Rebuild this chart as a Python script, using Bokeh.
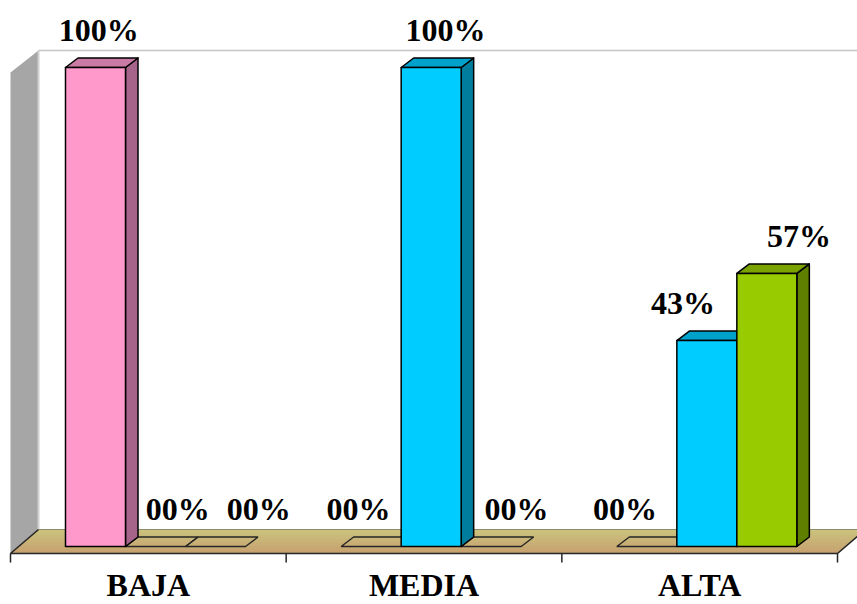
from bokeh.plotting import figure
from bokeh.models import Range1d, ColumnDataSource
from bokeh.core.properties import value
from bokeh.embed import file_html
from bokeh.resources import INLINE

# ---- data -------------------------------------------------------------
categories = ["BAJA", "MEDIA", "ALTA"]
serie_rosa = [100, 0, 0]
serie_celeste = [0, 100, 43]
serie_verde = [0, 0, 57]
series = [serie_rosa, serie_celeste, serie_verde]

# face colours per series: front, top, side
front_colors = ["#ff99cc", "#00ccff", "#99cc00"]
top_colors = ["#c97ba6", "#00a2cc", "#7aa300"]
side_colors = ["#a6648a", "#007c9c", "#5f7f00"]

# hand placed value labels (pixel nudges from the bar centre)
label_dx = [[-3, 16, 37], [-19, 8, 19], [-28, -30, 26]]

# ---- layout constants (screen pixels) ---------------------------------
W, H = 857, 604
X_PX = 275.67        # pixels per category
Y_PX = 4.79          # pixels per percentage point
X0_PX = 10           # left edge of the first category
BASE_PX = 546        # screen row of 0 % on the bars' front plane
TEXT_LIFT = 12       # svg text sits a little low; lift baselines by this

def dx(px):
    return px / X_PX

def dy(px):
    return px / Y_PX

def vy(screen_row):
    return (BASE_PX - screen_row) / Y_PX

p = figure(width=W, height=H, output_backend="svg", toolbar_location=None,
           x_range=Range1d(-X0_PX / X_PX, (W - X0_PX) / X_PX),
           y_range=Range1d(vy(H), vy(0)),
           x_axis_type=None, y_axis_type=None,
           min_border=0, outline_line_color=None)
p.grid.visible = False
p.background_fill_color = "white"
p.border_fill_color = "white"

# ---- walls and floor --------------------------------------------------
DEPTH_X, FLOOR_FRONT, FLOOR_BACK = 28, 553, 529
n_cat = len(categories)

# left side wall
p.patch([0, 0, dx(DEPTH_X), dx(DEPTH_X)],
        [vy(FLOOR_FRONT), vy(72), vy(50), vy(FLOOR_BACK)],
        fill_color="#a6a6a6", line_color=None)
# back wall edges
p.line([dx(DEPTH_X), dx(DEPTH_X)], [vy(FLOOR_BACK), vy(50)],
       line_color="#cfcfcf", line_width=2)
p.line([dx(DEPTH_X), dx(W)], [vy(50), vy(50)], line_color="#c4c4c4", line_width=1.5)

# floor drawn as thin strips shading from tan (front) to khaki (back)
c_front = (0xc6, 0x9f, 0x6e)
c_back = (0xcb, 0xc4, 0x7f)
n_strips = 12
fxs, fys, fcs = [], [], []
for k in range(n_strips):
    t0, t1 = k / n_strips, (k + 1) / n_strips
    r0 = FLOOR_FRONT - t0 * (FLOOR_FRONT - FLOOR_BACK)
    r1 = FLOOR_FRONT - t1 * (FLOOR_FRONT - FLOOR_BACK) - 0.4
    fxs.append([dx(t0 * DEPTH_X), n_cat + dx(t0 * DEPTH_X),
                n_cat + dx(t1 * DEPTH_X), dx(t1 * DEPTH_X)])
    fys.append([vy(r0), vy(r0), vy(r1), vy(r1)])
    t = (k + 0.5) / n_strips
    rgb = tuple(int(round(a + (b - a) * t)) for a, b in zip(c_front, c_back))
    fcs.append("#%02x%02x%02x" % rgb)
p.patches(fxs, fys, fill_color=fcs, line_color=None)
p.line([dx(DEPTH_X), n_cat + dx(DEPTH_X)], [vy(FLOOR_BACK), vy(FLOOR_BACK)],
       line_color="#8c8c6a", line_width=1)
p.line([dx(DEPTH_X), 0, n_cat, n_cat + dx(DEPTH_X)],
       [vy(FLOOR_BACK), vy(FLOOR_FRONT), vy(FLOOR_FRONT), vy(FLOOR_BACK)],
       line_color="#262626", line_width=1.6)

# category axis ticks at the category boundaries
p.segment(x0=list(range(n_cat + 1)), y0=[vy(FLOOR_FRONT)] * (n_cat + 1),
          x1=list(range(n_cat + 1)), y1=[vy(FLOOR_FRONT + 9)] * (n_cat + 1),
          line_color="#262626", line_width=1.5)

# ---- 3D bars ----------------------------------------------------------
BAR_W = dx(60)
GROUP_OFF = dx(55)
DDX, DDY = dx(12.5), dy(9.5)

flat_xs, flat_ys = [], []
side = dict(xs=[], ys=[], c=[])
top = dict(xs=[], ys=[], c=[])
front = dict(xs=[], ys=[], c=[])
lab = dict(x=[], y=[], t=[])
for i in range(n_cat):
    for j, s in enumerate(series):
        v = s[i]
        xl = i + GROUP_OFF + j * BAR_W
        xr = xl + BAR_W
        if v == 0:
            flat_xs.append([xl, xr, xr + DDX, xl + DDX])
            flat_ys.append([0, 0, DDY, DDY])
        else:
            side["xs"].append([xr, xr + DDX, xr + DDX, xr])
            side["ys"].append([0, DDY, v + DDY, v])
            side["c"].append(side_colors[j])
            top["xs"].append([xl, xr, xr + DDX, xl + DDX])
            top["ys"].append([v, v, v + DDY, v + DDY])
            top["c"].append(top_colors[j])
            front["xs"].append([xl, xr, xr, xl])
            front["ys"].append([0, 0, v, v])
            front["c"].append(front_colors[j])
        lab["x"].append((xl + xr) / 2 + DDX / 2 + dx(label_dx[i][j]))
        lab["y"].append(v + DDY + dy(16 + TEXT_LIFT))
        lab["t"].append("%02d%%" % v)

p.patches(flat_xs, flat_ys, fill_color=None, line_color="#262626", line_width=1.4)
for face in (side, top, front):
    p.patches("xs", "ys", source=ColumnDataSource(face), fill_color="c",
              line_color="black", line_width=1.5, line_join="round")

# ---- texts --------------------------------------------------------------
font = value("Liberation Serif")
p.text(x="x", y="y", text="t", source=ColumnDataSource(lab),
       text_font=font, text_font_style="bold", text_font_size="32px",
       text_align="center", text_baseline="alphabetic", text_color="black")
p.text(x=[i + 0.5 for i in range(n_cat)], y=[vy(596 - TEXT_LIFT)] * n_cat,
       text=categories,
       text_font=font, text_font_style="bold", text_font_size="32px",
       text_align="center", text_baseline="alphabetic", text_color="black")

open("out.html", "w").write(file_html(p, INLINE))
